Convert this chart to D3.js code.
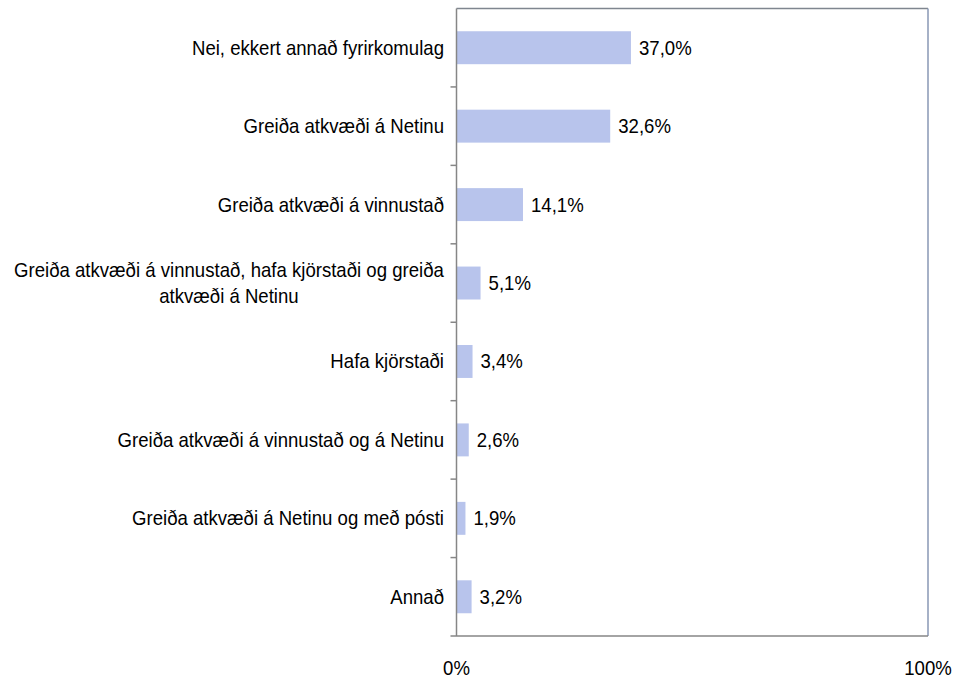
<!DOCTYPE html>
<html>
<head>
<meta charset="utf-8">
<style>
  body { margin: 0; background: #fff; }
  text { font-family: "Liberation Sans", Arial, sans-serif; fill: #000; }
</style>
</head>
<body>
<svg width="966" height="675"></svg>
<script src="https://cdn.jsdelivr.net/npm/d3@7/dist/d3.min.js"></script>
<script>

var categories = [
  ["Nei, ekkert annað fyrirkomulag"],
  ["Greiða atkvæði á Netinu"],
  ["Greiða atkvæði á vinnustað"],
  ["Greiða atkvæði á vinnustað, hafa kjörstaði og greiða", "atkvæði á Netinu"],
  ["Hafa kjörstaði"],
  ["Greiða atkvæði á vinnustað og á Netinu"],
  ["Greiða atkvæði á Netinu og með pósti"],
  ["Annað"]
];
var values = [37.0, 32.6, 14.1, 5.1, 3.4, 2.6, 1.9, 3.2];
var xTicks = [0, 100];

var plotL = 456.5, plotR = 928, plotT = 8.5, plotB = 636;
var fs = 20, squeeze = 0.93;

var svg = d3.select("svg");

var x = d3.scaleLinear().domain([0, 100]).range([plotL, plotR]);
var y = d3.scaleBand()
    .domain(d3.range(categories.length))
    .range([plotT, plotB])
    .paddingInner(0.58)
    .paddingOuter(0.29);

var fmt = function(v) { return d3.format(".1f")(v).replace(".", ",") + "%"; };

// narrow text: place at (px, py) and squeeze horizontally
function place(px, py) {
  return "translate(" + px + "," + py + ") scale(" + squeeze + ",1)";
}

// frame
svg.append("line").attr("x1", plotL).attr("x2", plotR).attr("y1", plotT).attr("y2", plotT)
    .attr("stroke", "#7f868f").attr("stroke-width", 1.5);
svg.append("line").attr("x1", plotR).attr("x2", plotR).attr("y1", plotT).attr("y2", plotB)
    .attr("stroke", "#8897b5").attr("stroke-width", 1.5);

// bars
svg.selectAll("rect.bar")
  .data(values)
  .enter().append("rect")
    .attr("class", "bar")
    .attr("x", x(0))
    .attr("y", function(d, i) { return y(i); })
    .attr("width", function(d) { return x(d) - x(0); })
    .attr("height", y.bandwidth())
    .attr("fill", "#b8c4ec");

// value labels
svg.selectAll("text.val")
  .data(values)
  .enter().append("text")
    .attr("class", "val")
    .attr("transform", function(d, i) { return place(x(d) + 8, y(i) + y.bandwidth() / 2); })
    .attr("dy", "0.35em")
    .attr("font-size", fs)
    .text(fmt);

// left axis with ticks at band boundaries
var step = y.step();
svg.append("line").attr("x1", plotL).attr("x2", plotL).attr("y1", plotT).attr("y2", plotB)
    .attr("stroke", "#868686").attr("stroke-width", 1.5);
svg.append("line").attr("x1", plotL - 6).attr("x2", plotR).attr("y1", plotB).attr("y2", plotB)
    .attr("stroke", "#868686").attr("stroke-width", 1.5);
svg.selectAll("line.tick")
  .data(d3.range(1, categories.length))
  .enter().append("line")
    .attr("class", "tick")
    .attr("x1", plotL - 6).attr("x2", plotL)
    .attr("y1", function(k) { return plotT + k * step; })
    .attr("y2", function(k) { return plotT + k * step; })
    .attr("stroke", "#868686").attr("stroke-width", 1.5);

// category labels
var labelRight = 444;
svg.selectAll("g.cat")
  .data(categories)
  .enter().append("g")
    .attr("class", "cat")
  .each(function(lines, i) {
    var g = d3.select(this);
    var cy = y(i) + y.bandwidth() / 2;
    var lh = 26;
    var ly = function(j) { return cy + (j - (lines.length - 1) / 2) * lh; };
    var texts = g.selectAll("text")
      .data(lines)
      .enter().append("text")
        .attr("font-size", fs)
        .attr("dy", "0.35em")
        .text(function(d) { return d; });
    if (lines.length === 1) {
      texts.attr("text-anchor", "end")
        .attr("transform", function(d, j) { return place(labelRight, ly(j)); });
    } else {
      var w = squeeze * d3.max(texts.nodes(), function(n) { return n.getComputedTextLength(); });
      texts.attr("text-anchor", "middle")
        .attr("transform", function(d, j) { return place(labelRight - w / 2, ly(j)); });
    }
  });

// x tick labels
svg.selectAll("text.xt")
  .data(xTicks)
  .enter().append("text")
    .attr("class", "xt")
    .attr("transform", function(d) { return place(x(d), 668); })
    .attr("dy", "0.35em")
    .attr("text-anchor", "middle")
    .attr("font-size", fs)
    .text(function(d) { return d + "%"; });

</script>
</body>
</html>
